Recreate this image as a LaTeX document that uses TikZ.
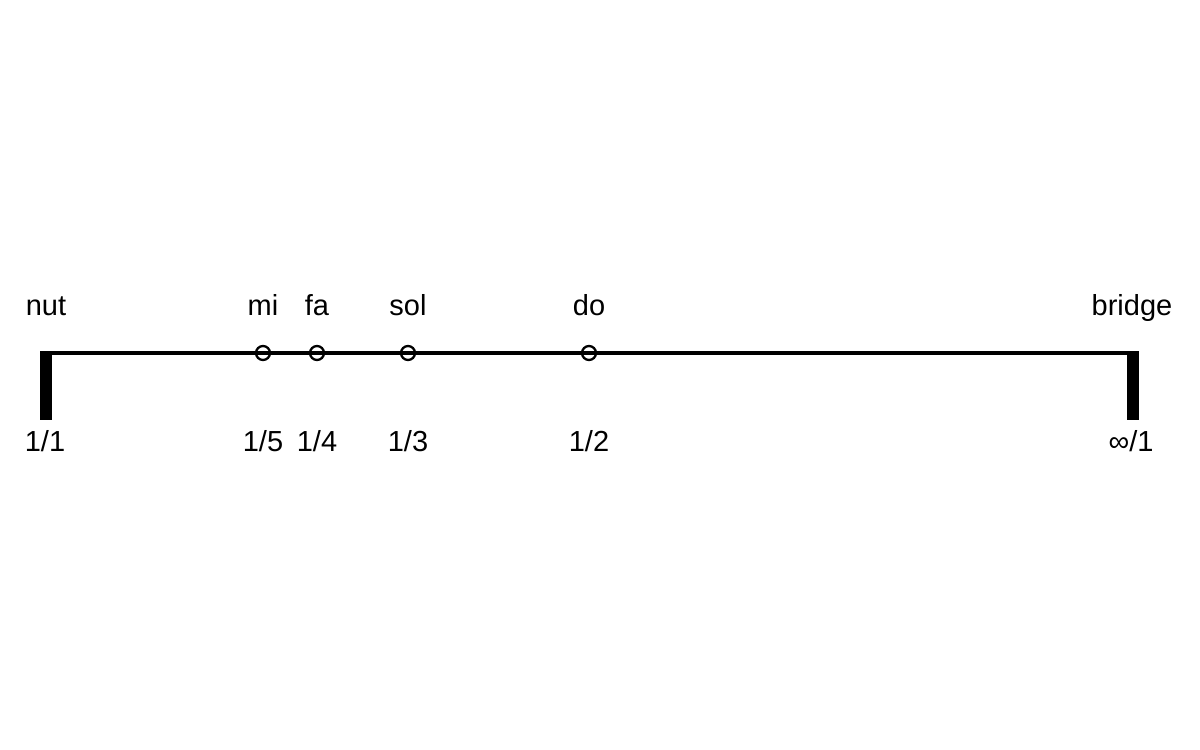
\documentclass[tikz,border=0pt]{standalone}
\usepackage{fontspec}
\setmainfont{Liberation Sans}
\usetikzlibrary{positioning}

\begin{document}
\begin{tikzpicture}[x=0.02cm, y=-0.02cm, font=\fontsize{16.5}{19}\selectfont,
    fret/.style={circle, draw, line width=1.3pt, minimum size=0.28cm, inner sep=0pt},
    note/.style={anchor=base},
    post/.style={line width=0.24cm}]
    \useasboundingbox (0,0) rectangle (1200,750);

    % String from nut to bridge
    \coordinate (nut) at (46,353);
    \coordinate (bridge) at (1133,353);
    \draw[line width=2.2pt] (nut) -- (bridge);

    % Nut and bridge posts
    \coordinate (nutfoot) at (46,420);
    \coordinate (bridgefoot) at (1133,420);
    \draw[post] ([yshift=0.04cm]nut) -- (nutfoot);
    \draw[post] ([yshift=0.04cm]bridge) -- (bridgefoot);
    \node[note] (nutname) at (46,315) {nut};
    \node[note] (nutratio) at (45,451) {1/1};
    \node[note] (bridgename) at (1132,315) {bridge};
    \node[note] (bridgeratio) at (1131,451) {∞/1};

    % Stopping points along the string
    \foreach \x/\name/\ratio in {263/mi/{1/5}, 317/fa/{1/4}, 408/sol/{1/3}, 589/do/{1/2}} {
        \node[fret] (\name) at (\x,353) {};
        \node[note] (\name name) at (\x,315) {\name};
        \node[note] (\name ratio) at (\x,451) {\ratio};
    }
\end{tikzpicture}
\end{document}
